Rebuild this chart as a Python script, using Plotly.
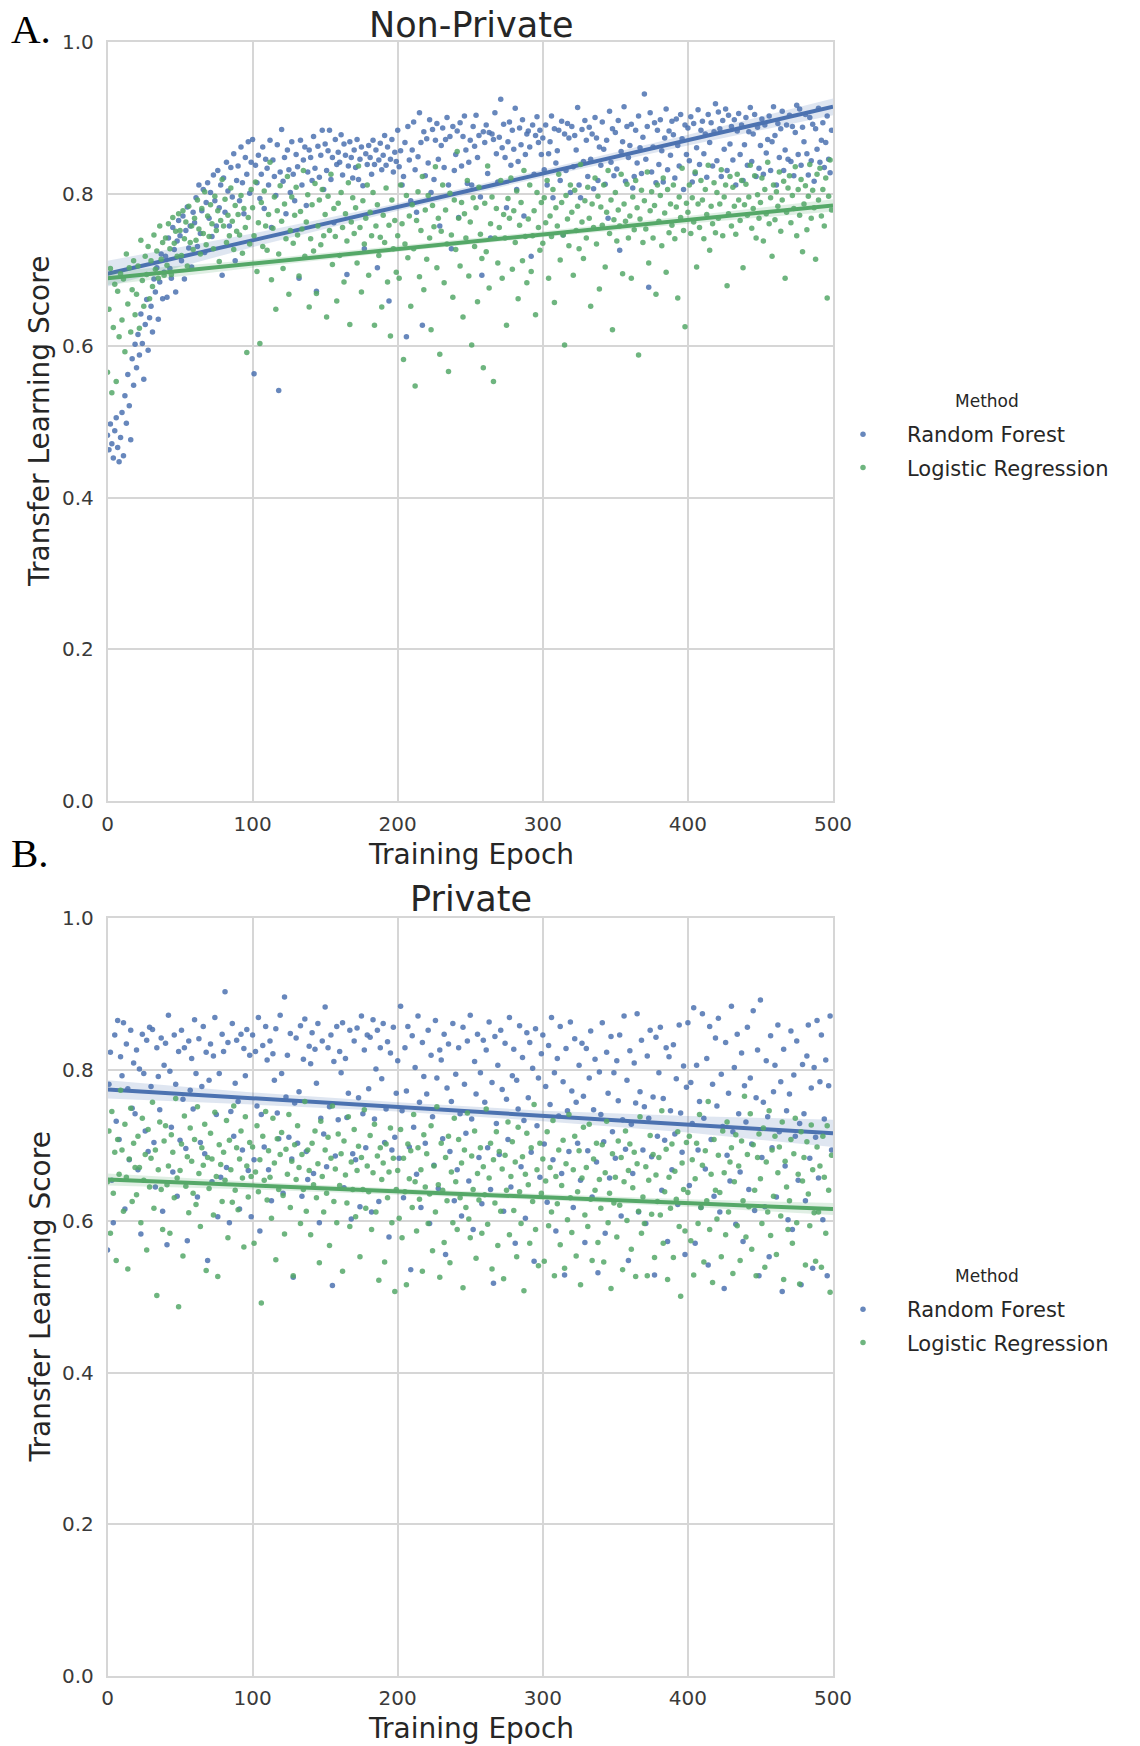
import plotly.graph_objects as go

# ---------------- data ----------------
epochs = list(range(500))
x_ticks = [0, 100, 200, 300, 400, 500]
y_ticks = [0.0, 0.2, 0.4, 0.6, 0.8, 1.0]
methods = ["Random Forest", "Logistic Regression"]
panel_titles = ["Non-Private", "Private"]
legend_title = "Method"

# Non-private: Random Forest scores per epoch
rf_nonprivate = [
    .482, .463, .497, .471, .452, .488, .505, .466, .447, .479,
    .512, .455, .534, .498, .562, .521, .476, .583, .548, .602,
    .571, .615, .588, .642, .603, .556, .628, .661, .594, .637,
    .652, .618, .688, .671, .703, .635, .684, .721, .662, .697,
    .718, .664, .742, .702, .689, .756, .727, .671, .738, .765,
    .745, .712, .771, .688, .752, .783, .729, .758, .704, .776,
    .762, .795, .731, .812, .748, .778, .806, .723, .789, .815,
    .768, .802, .744, .825, .791, .758, .831, .782, .812, .693,
    .821, .776, .842, .804, .758, .835, .796, .853, .712, .818,
    .837, .791, .862, .815, .774, .848, .826, .869, .801, .842,
    .872, .563, .838, .815, .851, .794, .826, .862, .781, .846,
    .834, .812, .871, .756, .845, .823, .798, .865, .541, .829,
    .885, .817, .848, .774, .858, .832, .802, .869, .826, .791,
    .852, .836, .689, .871, .812, .845, .862, .785, .829, .858,
    .848, .818, .876, .834, .672, .863, .822, .851, .884, .806,
    .866, .831, .857, .884, .819, .848, .762, .872, .839, .855,
    .842, .878, .825, .866, .851, .694, .837, .869, .848, .821,
    .858, .835, .872, .819, .846, .862, .811, .728, .853, .839,
    .864, .848, .826, .871, .839, .858, .703, .845, .867, .832,
    .851, .877, .838, .862, .659, .846, .872, .829, .855, .843,
    .884, .836, .857, .812, .823, .868, .612, .889, .845, .791,
    .858, .895, .832, .776, .849, .907, .868, .627, .882, .824,
    .873, .841, .898, .802, .885, .819, .871, .893, .846, .758,
    .864, .887, .835, .872, .901, .812, .876, .728, .889, .831,
    .852, .883, .769, .894, .837, .876, .903, .858, .814, .842,
    .871, .812, .889, .863, .904, .848, .877, .796, .693, .882,
    .868, .891, .827, .881, .742, .879, .872, .907, .853, .816,
    .875, .925, .861, .892, .848, .782, .869, .895, .838, .884,
    .859, .913, .806, .843, .887, .865, .898, .771, .852, .879,
    .883, .862, .718, .891, .826, .877, .902, .868, .884, .852,
    .874, .832, .891, .812, .853, .869, .903, .795, .886, .841,
    .857, .884, .818, .896, .746, .879, .831, .893, .874, .802,
    .889, .836, .877, .858, .914, .812, .795, .885, .843, .897,
    .871, .823, .888, .846, .879, .807, .901, .874, .818, .862,
    .838, .895, .859, .813, .871, .768, .909, .842, .886, .824,
    .881, .833, .897, .726, .856, .869, .915, .817, .889, .848,
    .864, .892, .808, .823, .884, .841, .903, .861, .827, .875,
    .932, .846, .889, .677, .907, .829, .862, .894, .815, .884,
    .839, .898, .857, .816, .874, .912, .832, .883, .851, .896,
    .878, .821, .899, .864, .837, .905, .873, .806, .891, .852,
    .887, .844, .902, .816, .893, .827, .861, .911, .839, .884,
    .896, .853, .879, .822, .905, .868, .894, .837, .882, .919,
    .844, .908, .886, .823, .897, .859, .912, .831, .904, .866,
    .889, .845, .898, .812, .883, .906, .852, .891, .818, .865,
    .901, .838, .882, .914, .843, .879, .905, .823, .888, .834,
    .864, .899, .826, .891, .854, .872, .903, .831, .869, .915,
    .877, .812, .893, .848, .886, .909, .831, .858, .891, .846,
    .904, .843, .889, .824, .881, .917, .852, .912, .838, .888,
    .869, .905, .853, .825, .901, .844, .892, .817, .886, .859,
    .913, .842, .871, .894, .835, .868, .903, .846, .828, .884,
]

# Non-private: Logistic Regression scores per epoch
lr_nonprivate = [
    .565, .648, .702, .538, .624, .681, .553, .672, .612, .695,
    .634, .688, .592, .721, .655, .703, .618, .674, .712, .641,
    .668, .705, .623, .739, .686, .652, .718, .694, .731, .662,
    .712, .678, .746, .701, .725, .689, .758, .714, .736, .693,
    .742, .706, .761, .728, .694, .769, .735, .751, .718, .774,
    .752, .719, .778, .741, .763, .705, .784, .736, .758, .727,
    .768, .739, .792, .754, .721, .781, .748, .803, .733, .771,
    .744, .786, .761, .728, .797, .752, .778, .711, .765, .819,
    .758, .793, .736, .772, .745, .808, .764, .727, .785, .751,
    .773, .746, .798, .722, .781, .756, .591, .769, .734, .806,
    .782, .745, .816, .698, .762, .603, .789, .731, .804, .758,
    .726, .773, .842, .687, .755, .796, .648, .778, .721, .811,
    .764, .702, .787, .741, .823, .668, .752, .796, .735, .772,
    .809, .746, .692, .777, .754, .831, .718, .763, .799, .651,
    .741, .786, .725, .814, .669, .758, .792, .733, .806, .745,
    .773, .638, .797, .752, .826, .707, .781, .744, .659, .788,
    .719, .802, .756, .684, .774, .738, .815, .628, .763, .795,
    .748, .782, .709, .837, .756, .671, .791, .734, .768, .812,
    .693, .776, .745, .802, .627, .758, .786, .719, .743, .651,
    .772, .736, .808, .684, .759, .613, .792, .728, .765, .697,
    .745, .689, .812, .761, .582, .734, .798, .716, .771, .652,
    .786, .728, .547, .765, .803, .691, .752, .823, .674, .779,
    .714, .798, .742, .621, .785, .757, .836, .703, .768, .589,
    .751, .812, .683, .779, .734, .566, .801, .746, .664, .792,
    .727, .856, .768, .705, .789, .638, .774, .742, .818, .692,
    .763, .601, .795, .731, .782, .658, .809, .747, .715, .571,
    .788, .724, .837, .676, .761, .796, .553, .742, .781, .709,
    .756, .818, .689, .773, .742, .627, .794, .768, .821, .701,
    .778, .736, .804, .662, .759, .789, .712, .831, .744, .683,
    .767, .812, .698, .745, .778, .641, .802, .756, .726, .789,
    .735, .795, .762, .818, .689, .771, .744, .806, .657, .782,
    .758, .826, .713, .789, .746, .601, .798, .767, .732, .812,
    .776, .693, .805, .752, .784, .728, .839, .763, .715, .791,
    .742, .809, .768, .652, .787, .756, .821, .734, .797, .675,
    .783, .759, .812, .704, .776, .831, .748, .792, .621, .766,
    .802, .738, .779, .758, .826, .695, .787, .764, .813, .742,
    .771, .689, .796, .753, .818, .782, .588, .767, .805, .736,
    .791, .754, .829, .709, .778, .803, .742, .785, .668, .812,
    .764, .798, .732, .821, .775, .697, .806, .749, .787, .759,
    .812, .741, .783, .663, .796, .769, .834, .752, .625, .788,
    .776, .812, .748, .795, .763, .829, .704, .787, .756, .818,
    .792, .741, .806, .773, .838, .726, .784, .761, .815, .749,
    .802, .768, .787, .832, .745, .796, .812, .679, .774, .823,
    .758, .809, .784, .747, .826, .792, .765, .818, .703, .786,
    .813, .772, .796, .838, .755, .781, .824, .742, .799, .768,
    .789, .821, .738, .806, .774, .842, .761, .795, .718, .812,
    .766, .803, .784, .829, .751, .792, .817, .689, .776, .808,
    .824, .762, .798, .781, .836, .745, .806, .772, .819, .724,
    .787, .811, .753, .797, .839, .768, .805, .782, .714, .826,
    .792, .834, .771, .806, .758, .821, .663, .797, .845, .779,
]

# Private: Random Forest scores per epoch
rf_private = [
    .562, .781, .823, .654, .598, .846, .732, .865, .708, .817,
    .792, .862, .616, .834, .775, .681, .852, .749, .809, .742,
    .826, .668, .801, .583, .847, .795, .719, .839, .692, .856,
    .778, .853, .704, .645, .829, .791, .747, .842, .613, .806,
    .835, .569, .872, .798, .724, .665, .846, .781, .633, .824,
    .707, .852, .761, .829, .696, .574, .838, .773, .815, .748,
    .866, .795, .632, .841, .704, .778, .857, .689, .823, .548,
    .786, .834, .652, .818, .869, .741, .606, .795, .658, .847,
    .824, .903, .671, .836, .598, .745, .861, .712, .782, .839,
    .758, .616, .847, .694, .828, .792, .853, .667, .819, .606,
    .846, .681, .824, .752, .869, .587, .741, .832, .698, .857,
    .813, .668, .838, .627, .821, .786, .854, .743, .709, .872,
    .795, .637, .896, .764, .819, .711, .848, .682, .526, .756,
    .842, .703, .771, .858, .633, .814, .867, .692, .655, .831,
    .808, .849, .663, .827, .782, .861, .598, .736, .838, .715,
    .883, .672, .829, .751, .846, .515, .811, .686, .857, .734,
    .824, .796, .862, .644, .815, .737, .769, .852, .603, .689,
    .838, .681, .855, .763, .619, .871, .742, .826, .697, .846,
    .775, .843, .612, .866, .735, .801, .852, .626, .829, .788,
    .861, .704, .748, .837, .579, .822, .694, .856, .711, .769,
    .812, .683, .884, .746, .631, .829, .772, .857, .698, .536,
    .845, .724, .803, .662, .871, .757, .618, .836, .791, .703,
    .768, .852, .597, .819, .738, .674, .865, .789, .643, .826,
    .813, .709, .847, .556, .776, .834, .692, .758, .861, .627,
    .794, .668, .829, .742, .607, .856, .781, .716, .838, .653,
    .872, .735, .589, .811, .768, .847, .684, .796, .623, .839,
    .757, .826, .697, .863, .642, .783, .518, .844, .729, .806,
    .688, .852, .774, .613, .835, .761, .708, .869, .645, .792,
    .827, .571, .786, .748, .858, .672, .816, .733, .604, .849,
    .763, .836, .691, .802, .547, .854, .726, .789, .658, .821,
    .846, .702, .778, .625, .832, .754, .869, .681, .796, .587,
    .815, .739, .857, .663, .784, .529, .828, .746, .692, .863,
    .772, .618, .841, .757, .703, .806, .654, .835, .765, .572,
    .828, .693, .789, .851, .632, .747, .814, .678, .532, .797,
    .741, .862, .705, .584, .823, .769, .657, .844, .718, .796,
    .683, .812, .759, .846, .607, .734, .871, .695, .786, .548,
    .825, .728, .663, .809, .756, .874, .612, .771, .839, .694,
    .751, .597, .818, .736, .852, .685, .764, .529, .843, .712,
    .796, .856, .641, .762, .707, .829, .573, .817, .746, .668,
    .833, .715, .788, .622, .859, .743, .691, .805, .556, .777,
    .862, .647, .783, .729, .882, .571, .806, .694, .758, .618,
    .874, .736, .669, .815, .542, .857, .708, .781, .633, .842,
    .752, .868, .612, .794, .725, .511, .836, .687, .769, .653,
    .884, .718, .803, .596, .847, .742, .665, .822, .573, .779,
    .731, .856, .642, .789, .702, .878, .614, .763, .826, .528,
    .892, .684, .757, .619, .812, .738, .553, .845, .697, .771,
    .806, .632, .859, .718, .784, .507, .827, .673, .746, .602,
    .768, .851, .589, .793, .712, .838, .654, .729, .516, .807,
    .742, .627, .818, .859, .683, .776, .538, .803, .711, .865,
    .657, .784, .846, .602, .735, .813, .528, .779, .871, .694,
]

# Private: Logistic Regression scores per epoch
lr_private = [
    .652, .719, .584, .745, .637, .691, .548, .708, .662, .773,
    .694, .613, .728, .658, .537, .682, .749, .626, .703, .671,
    .635, .712, .671, .598, .736, .654, .688, .562, .721, .645,
    .683, .757, .617, .694, .502, .668, .731, .642, .589, .706,
    .726, .648, .673, .584, .714, .691, .631, .762, .657, .487,
    .667, .702, .554, .739, .646, .685, .611, .723, .679, .637,
    .708, .622, .751, .663, .593, .697, .674, .728, .535, .684,
    .643, .716, .682, .608, .744, .659, .527, .701, .675, .626,
    .691, .654, .733, .578, .707, .668, .625, .752, .641, .697,
    .615, .682, .719, .657, .566, .738, .673, .632, .704, .659,
    .698, .571, .665, .726, .639, .681, .492, .712, .654, .745,
    .628, .693, .658, .604, .736, .677, .549, .709, .642, .688,
    .717, .634, .583, .695, .662, .741, .618, .679, .528, .701,
    .655, .726, .671, .597, .688, .642, .758, .613, .694, .667,
    .582, .703, .648, .719, .631, .676, .545, .732, .659, .612,
    .694, .637, .711, .568, .683, .752, .626, .669, .598, .715,
    .647, .689, .534, .706, .661, .624, .738, .593, .678, .642,
    .721, .606, .667, .699, .553, .684, .642, .747, .617, .673,
    .639, .713, .589, .664, .728, .612, .686, .522, .697, .655,
    .677, .546, .702, .631, .665, .723, .598, .683, .507, .642,
    .667, .604, .721, .578, .683, .639, .516, .702, .656, .693,
    .618, .741, .652, .587, .697, .629, .668, .534, .714, .645,
    .689, .597, .636, .726, .561, .673, .612, .751, .648, .526,
    .703, .641, .572, .684, .627, .712, .545, .665, .598, .736,
    .652, .589, .708, .631, .677, .512, .694, .618, .743, .603,
    .578, .686, .642, .719, .551, .663, .628, .697, .584, .672,
    .635, .748, .596, .657, .703, .537, .681, .624, .718, .568,
    .692, .613, .669, .524, .687, .641, .731, .582, .659, .705,
    .614, .678, .553, .724, .639, .597, .685, .508, .662, .716,
    .648, .571, .697, .626, .754, .589, .668, .541, .703, .637,
    .682, .547, .653, .718, .594, .671, .612, .733, .528, .659,
    .623, .694, .569, .647, .707, .538, .676, .602, .741, .631,
    .585, .668, .712, .554, .639, .693, .516, .657, .724, .608,
    .671, .593, .728, .629, .548, .682, .641, .703, .572, .655,
    .617, .701, .546, .664, .732, .598, .637, .511, .689, .624,
    .658, .579, .706, .621, .684, .536, .652, .719, .601, .667,
    .702, .563, .644, .691, .527, .676, .613, .738, .584, .632,
    .597, .672, .528, .654, .713, .609, .688, .552, .661, .626,
    .684, .608, .746, .571, .639, .695, .523, .658, .617, .702,
    .552, .666, .629, .718, .593, .501, .677, .642, .587, .704,
    .638, .712, .574, .681, .529, .656, .703, .597, .741, .618,
    .674, .546, .693, .627, .758, .589, .662, .519, .708, .641,
    .603, .687, .638, .553, .719, .664, .582, .731, .612, .678,
    .697, .531, .652, .714, .594, .673, .548, .706, .627, .765,
    .579, .688, .619, .742, .563, .701, .641, .528, .684, .715,
    .656, .597, .723, .539, .678, .612, .746, .581, .694, .633,
    .712, .556, .664, .698, .607, .731, .523, .679, .645, .589,
    .627, .708, .571, .689, .736, .598, .662, .517, .718, .653,
    .684, .542, .705, .636, .594, .727, .668, .611, .547, .698,
    .612, .673, .539, .712, .658, .584, .726, .641, .506, .687,
]

# Regression fits (line ends) and CI band edges
fit_x = [0, 500]
rf_nonprivate_fit = [0.695, 0.915]
lr_nonprivate_fit = [0.689, 0.785]
rf_private_fit = [0.774, 0.716]
lr_private_fit = [0.655, 0.616]

ci_x = [0, 100, 200, 300, 400, 500]
rf_nonprivate_lo = [0.678, 0.730, 0.778, 0.822, 0.864, 0.904]
rf_nonprivate_hi = [0.712, 0.748, 0.788, 0.832, 0.878, 0.926]
lr_nonprivate_lo = [0.680, 0.703, 0.724, 0.743, 0.761, 0.777]
lr_nonprivate_hi = [0.698, 0.713, 0.732, 0.751, 0.771, 0.793]
rf_private_lo = [0.762, 0.754, 0.745, 0.732, 0.717, 0.698]
rf_private_hi = [0.786, 0.770, 0.757, 0.746, 0.739, 0.734]
lr_private_lo = [0.647, 0.642, 0.635, 0.628, 0.619, 0.608]
lr_private_hi = [0.663, 0.652, 0.643, 0.636, 0.629, 0.624]

# ---------------- styling ----------------
BLUE = "#4C72B0"
GREEN = "#55A868"
BLUE_BAND = "rgba(76,114,176,0.18)"
GREEN_BAND = "rgba(85,168,104,0.18)"
FONT = "DejaVu Sans"
W, H = 1140, 1746


def px_x(p):
    return p / W


def px_y(p):
    return 1 - p / H


fig = go.Figure()

panels = [
    ("x", "y", "legend", rf_nonprivate, lr_nonprivate, rf_nonprivate_fit, lr_nonprivate_fit,
     (rf_nonprivate_lo, rf_nonprivate_hi), (lr_nonprivate_lo, lr_nonprivate_hi)),
    ("x2", "y2", "legend2", rf_private, lr_private, rf_private_fit, lr_private_fit,
     (rf_private_lo, rf_private_hi), (lr_private_lo, lr_private_hi)),
]

for xa, ya, leg, rf_vals, lr_vals, rf_fit, lr_fit, rf_ci, lr_ci in panels:
    for name, vals, fit, ci, col, band in [
        (methods[0], rf_vals, rf_fit, rf_ci, BLUE, BLUE_BAND),
        (methods[1], lr_vals, lr_fit, lr_ci, GREEN, GREEN_BAND),
    ]:
        fig.add_trace(go.Scatter(
            x=epochs, y=vals, mode="markers", name=name,
            marker=dict(color=col, size=5.5, opacity=0.85, line=dict(width=0)),
            xaxis=xa, yaxis=ya, legend=leg, legendgroup=leg + name,
            showlegend=True, hoverinfo="skip"))
        lo, hi = ci
        fig.add_trace(go.Scatter(
            x=ci_x + ci_x[::-1], y=hi + lo[::-1], mode="lines", fill="toself",
            fillcolor=band, line=dict(width=0), xaxis=xa, yaxis=ya,
            showlegend=False, hoverinfo="skip"))
        fig.add_trace(go.Scatter(
            x=fit_x, y=fit, mode="lines", line=dict(color=col, width=4),
            xaxis=xa, yaxis=ya, showlegend=False, hoverinfo="skip"))

grid_col = "#d6d6d6"
tick_font = dict(family=FONT, size=20, color="#3a3a3a")
common_x = dict(range=[0, 500], tickvals=x_ticks, showgrid=True, gridcolor=grid_col,
                gridwidth=1.5, showline=True, linecolor=grid_col, linewidth=1.5,
                mirror=True, zeroline=False, ticks="", tickfont=tick_font,
                ticklabelstandoff=4, automargin=False, domain=[px_x(107.5), px_x(833)])
common_y = dict(range=[0, 1], tickvals=y_ticks, tickformat=".1f", showgrid=True,
                gridcolor=grid_col, gridwidth=1.5, showline=True, linecolor=grid_col,
                linewidth=1.5, mirror=True, zeroline=False, ticks="", tickfont=tick_font,
                ticklabelstandoff=8, automargin=False)

legend_common = dict(
    xanchor="left", yanchor="top", bgcolor="rgba(0,0,0,0)", tracegroupgap=3,
    itemwidth=78,
    font=dict(family=FONT, size=21, color="#262626"),
)

fig.update_layout(
    width=W, height=H, margin=dict(l=0, r=0, t=0, b=0, pad=0, autoexpand=False),
    paper_bgcolor="white", plot_bgcolor="white",
    xaxis=dict(anchor="y", **common_x),
    yaxis=dict(anchor="x", domain=[px_y(801), px_y(42.3)], **common_y),
    xaxis2=dict(anchor="y2", **common_x),
    yaxis2=dict(anchor="x2", domain=[px_y(1675.5), px_y(918.3)], **common_y),
    legend=dict(x=px_x(819), y=px_y(414), **legend_common),
    legend2=dict(x=px_x(819), y=px_y(1289), **legend_common),
    showlegend=True,
)

text_col = "#262626"
cx = px_x(470.5)
annots = [
    dict(text=panel_titles[0], x=cx, y=px_y(25), size=35, family=FONT, angle=0, xa="center"),
    dict(text=panel_titles[1], x=cx, y=px_y(899), size=35, family=FONT, angle=0, xa="center"),
    dict(text="Training Epoch", x=cx, y=px_y(854.5), size=28, family=FONT, angle=0, xa="center"),
    dict(text="Training Epoch", x=cx, y=px_y(1728), size=28, family=FONT, angle=0, xa="center"),
    dict(text="Transfer Learning Score", x=px_x(39.5), y=px_y(421.5), size=28, family=FONT, angle=-90, xa="center"),
    dict(text="Transfer Learning Score", x=px_x(39.5), y=px_y(1297), size=28, family=FONT, angle=-90, xa="center"),
    dict(text="A.", x=px_x(9), y=px_y(29), size=41, family="Liberation Serif", angle=0, xa="left"),
    dict(text="B.", x=px_x(9), y=px_y(853), size=41, family="Liberation Serif", angle=0, xa="left"),
    dict(text=legend_title, x=px_x(986.5), y=px_y(401), size=17, family=FONT, angle=0, xa="center"),
    dict(text=legend_title, x=px_x(986.5), y=px_y(1276), size=17, family=FONT, angle=0, xa="center"),
]
for a in annots:
    fig.add_annotation(
        text=a["text"], x=a["x"], y=a["y"], xref="paper", yref="paper",
        xanchor=a["xa"], yanchor="middle", showarrow=False, textangle=a["angle"],
        font=dict(family=a["family"], size=a["size"],
                  color="black" if a["family"] == "Liberation Serif" else text_col))

fig.write_html("out.html", config={"displayModeBar": False},
               post_script="document.body.style.margin='0';")
